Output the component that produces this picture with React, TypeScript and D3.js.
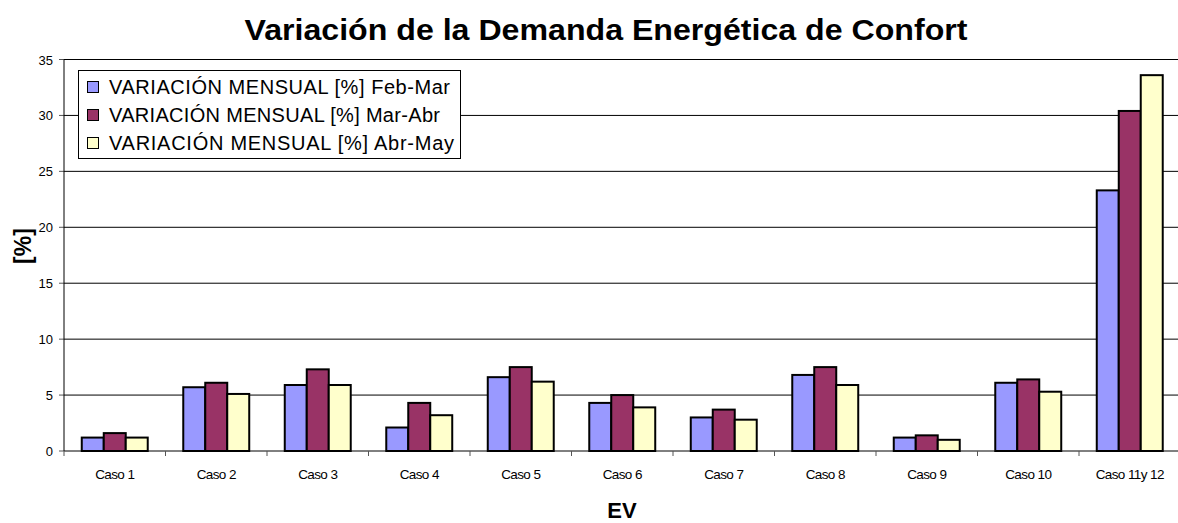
import React from 'react';
import * as d3 from 'd3';

const categories = ["Caso 1", "Caso 2", "Caso 3", "Caso 4", "Caso 5", "Caso 6", "Caso 7", "Caso 8", "Caso 9", "Caso 10", "Caso 11y 12"];
const seriesNames = ["VARIACIÓN MENSUAL [%] Feb-Mar", "VARIACIÓN MENSUAL [%] Mar-Abr", "VARIACIÓN MENSUAL [%] Abr-May"];
const febMar = [1.2, 5.7, 5.9, 2.1, 6.6, 4.3, 3.0, 6.8, 1.2, 6.1, 23.3];
const marAbr = [1.6, 6.1, 7.3, 4.3, 7.5, 5.0, 3.7, 7.5, 1.4, 6.4, 30.4];
const abrMay = [1.2, 5.1, 5.9, 3.2, 6.2, 3.9, 2.8, 5.9, 1.0, 5.3, 33.6];
const yTicks = [0, 5, 10, 15, 20, 25, 30, 35];
const colors = ["#9999FF", "#993366", "#FFFFCC"];
// legend label widths as they appear in the picture
const legendLengths = [341, 331, 345];

const W = 1178, H = 523;
const left = 64, right = 1180.5, top = 59.5, bottom = 451;
const font = "'Liberation Sans', Arial, sans-serif";

export default function App() {
  const series = [febMar, marAbr, abrMay];

  const x = d3.scaleBand<string>()
    .domain(categories)
    .range([left, right])
    .paddingInner(0.35)
    .paddingOuter(0.175);
  const xs = d3.scaleBand<number>()
    .domain([0, 1, 2])
    .range([0, x.bandwidth()]);
  const y = d3.scaleLinear().domain([0, 35]).range([bottom, top]);
  const step = x.step();

  return (
    <svg width={W} height={H} style={{display: "block", position: "absolute", left: 0, top: 0}} fontFamily={font}>
      <rect width={W} height={H} fill="#fff" />
      <text x={606} y={40} textAnchor="middle" fontSize={29} fontWeight="bold"
        textLength={723} lengthAdjust="spacingAndGlyphs">
        Variación de la Demanda Energética de Confort
      </text>

      {/* grid */}
      {yTicks.filter(t => t > 0).map(t => (
        <line key={t} x1={left} x2={right} y1={y(t)} y2={y(t)} stroke="#000" strokeWidth={1} />
      ))}
      {yTicks.map(t => (
        <g key={t}>
          <line x1={left - 5} x2={left} y1={y(t)} y2={y(t)} stroke="#555" />
          <text x={left - 11} y={y(t) + 5} textAnchor="end" fontSize={13}>{t}</text>
        </g>
      ))}

      {/* bars */}
      {categories.map((c, i) => (
        <g key={c} transform={`translate(${x(c)},0)`}>
          {series.map((s, j) => (
            <rect key={j} x={xs(j)} y={y(s[i])} width={xs.bandwidth()} height={bottom - y(s[i])}
              fill={colors[j]} stroke="#000" strokeWidth={2} />
          ))}
        </g>
      ))}

      {/* axes */}
      <line x1={left} x2={left} y1={top} y2={bottom} stroke="#000" />
      <line x1={left} x2={right} y1={bottom} y2={bottom} stroke="#000" />
      {d3.range(categories.length + 1).map(i => (
        <line key={i} x1={left + i * step} x2={left + i * step} y1={bottom} y2={bottom + 5} stroke="#555" />
      ))}
      {categories.map(c => (
        <text key={c} x={(x(c) as number) + x.bandwidth() / 2} y={479} textAnchor="middle" fontSize={13.5} letterSpacing={-0.6}>{c}</text>
      ))}

      <text x={622} y={518} textAnchor="middle" fontSize={22} fontWeight="bold">EV</text>
      <text transform="translate(31,246) rotate(-90)" textAnchor="middle" fontSize={23} fontWeight="bold">[%]</text>

      {/* legend */}
      <rect x={78.5} y={70.5} width={382} height={88} fill="#fff" stroke="#000" />
      {seriesNames.map((n, j) => (
        <g key={n} transform={`translate(0,${87 + j * 28})`}>
          <rect x={87.5} y={-5.5} width={11} height={11} fill={colors[j]} stroke="#000" />
          <text x={109} y={7} fontSize={20} textLength={legendLengths[j]} lengthAdjust="spacing">{n}</text>
        </g>
      ))}
    </svg>
  );
}
